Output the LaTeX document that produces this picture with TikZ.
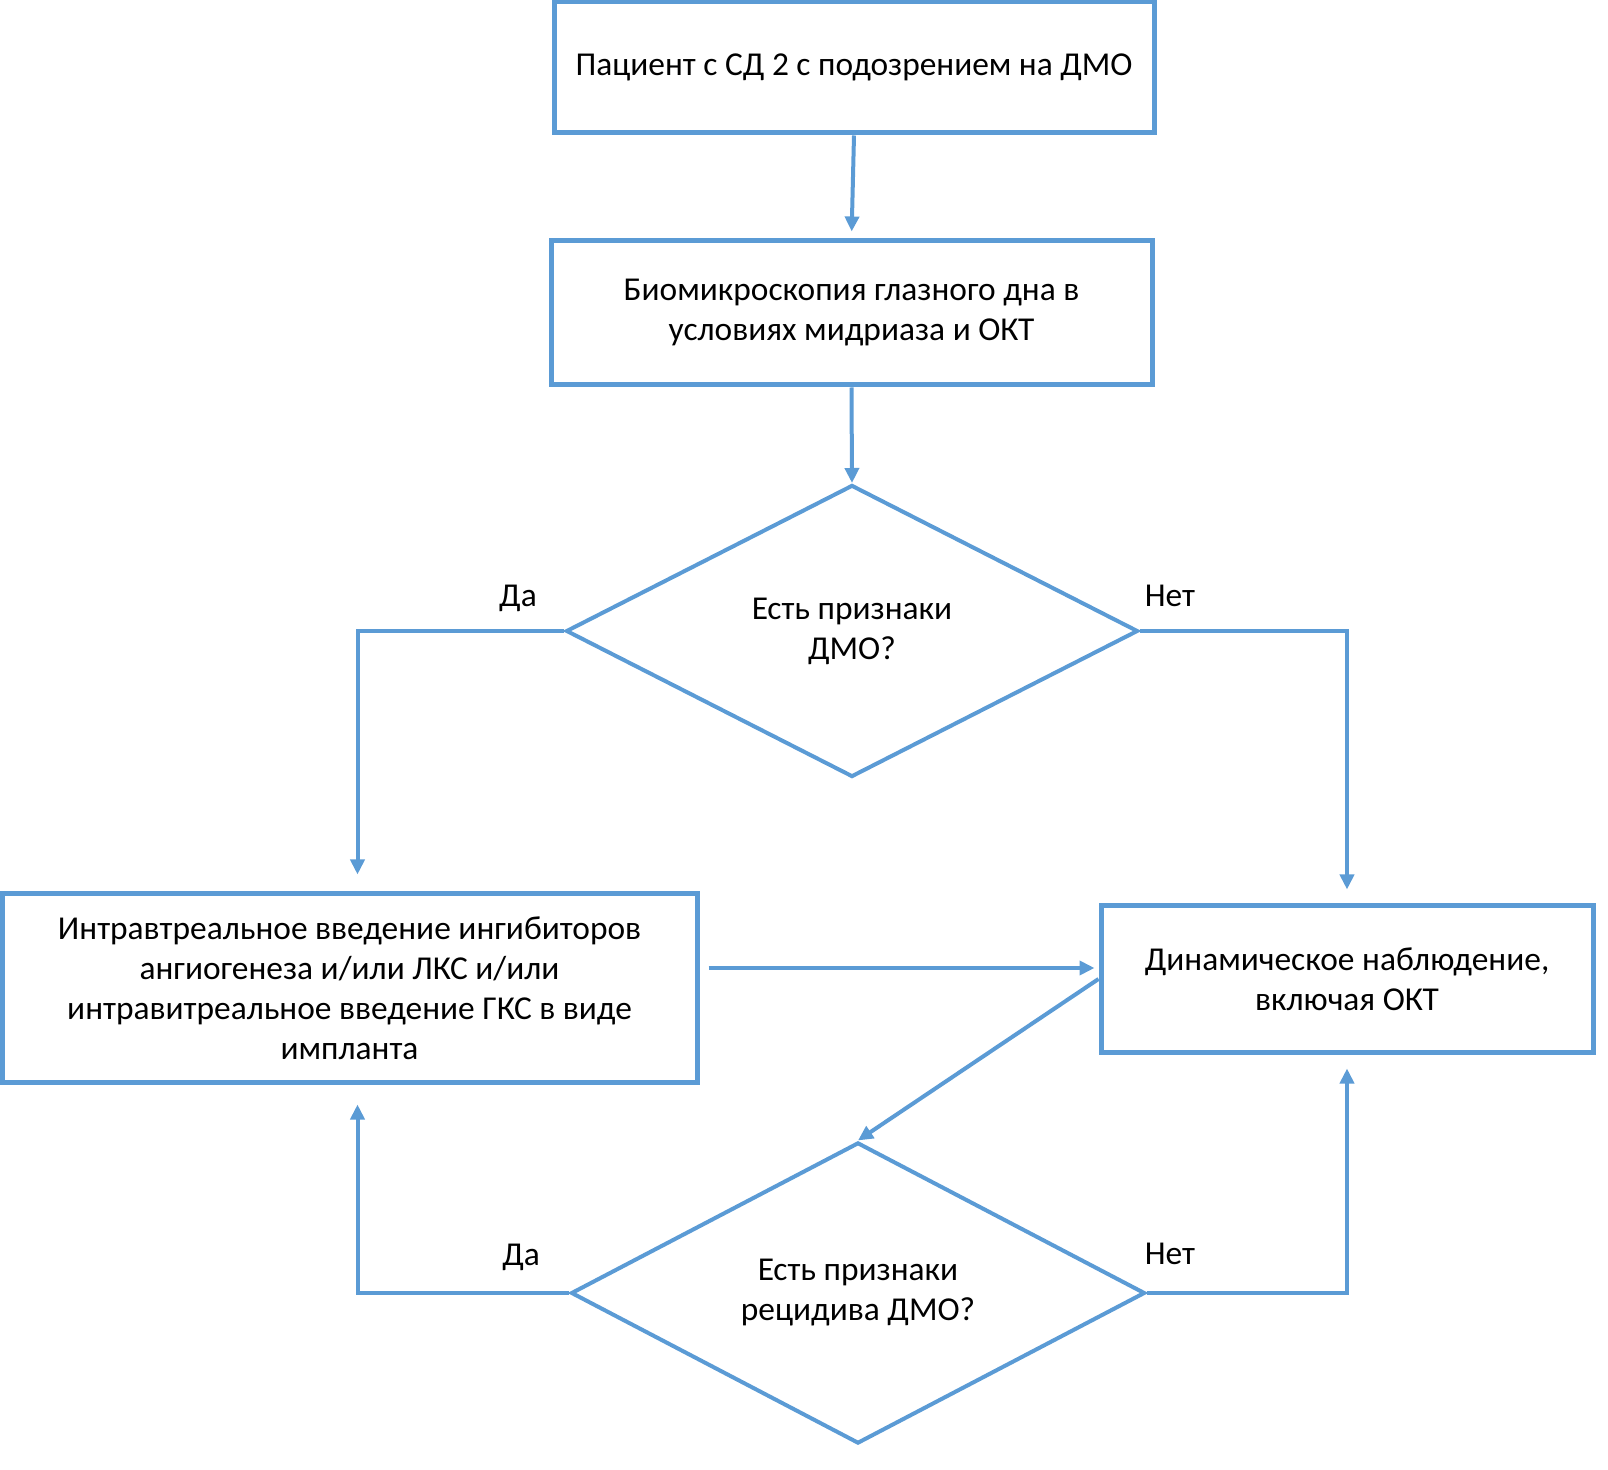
\documentclass[tikz,border=0pt]{standalone}
\usepackage{fontspec}
\setmainfont{Carlito}
\usetikzlibrary{arrows.meta,shapes.geometric}
\definecolor{flowblue}{HTML}{5B9BD5}
\begin{document}
\begin{tikzpicture}[x=0.5pt,y=-0.5pt,
  box/.style={rectangle, draw=flowblue, line width=2.5pt, align=center, inner sep=0pt, font=\fontsize{16.7}{20}\selectfont},
  ques/.style={diamond, draw=flowblue, line width=2pt, align=center, inner sep=0pt, font=\fontsize{16.7}{20}\selectfont},
  arr/.style={draw=flowblue, line width=2pt, -{Triangle[length=7.5pt,width=7pt]}},
  lbl/.style={font=\fontsize{16.7}{20}\selectfont}]
\useasboundingbox (0,0) rectangle (1608,1470);
% boxes
\node [box, minimum width=300pt, minimum height=65.5pt] (start) at (854,67.5) {Пациент с СД 2 с подозрением на ДМО};
\node [box, minimum width=300.5pt, minimum height=72pt] (exam) at (851.5,313) {Биомикроскопия глазного дна в\\условиях мидриаза и ОКТ};
\node [ques, minimum width=286pt, minimum height=146pt] (q1) at (852,631) {Есть признаки\\ДМО?};
\node [box, minimum width=347.5pt, minimum height=94pt] (act) at (349.5,988) {Интравтреальное введение ингибиторов\\ангиогенеза и/или ЛКС и/или\\интравитреальное введение ГКС в виде\\импланта};
\node [box, minimum width=246pt, minimum height=73pt] (watch) at (1347,979) {Динамическое наблюдение,\\включая ОКТ};
\node [ques, minimum width=287pt, minimum height=146pt] (q2) at (858,1293) {Есть признаки\\рецидива ДМО?};
% labels
\node [lbl] (yes1) at (518,598) {Да};
\node [lbl] (no1) at (1170,596) {Нет};
\node [lbl] (yes2) at (521,1257) {Да};
\node [lbl] (no2) at (1170,1254) {Нет};
% arrows
\draw [arr, shorten >=3.5pt] (start.south) -- (exam.north);
\draw [arr] (exam.south) -- (q1.north);
\draw [arr, shorten >=8.5pt] (q1.west) -| ([xshift=4pt]act.north);
\draw [arr, shorten >=7pt] (q1.east) -| (watch.north);
\coordinate (lr) at ([yshift=10pt]act.east);
\draw [arr, shorten <=4.5pt, shorten >=2pt] (lr) -- (lr -| watch.west);
\draw [arr] (watch.west) -- (q2.north);
\draw [arr, shorten >=10pt] (q2.west) -| ([xshift=4pt]act.south);
\draw [arr, shorten >=7pt] (q2.east) -| (watch.south);
\end{tikzpicture}
\end{document}
